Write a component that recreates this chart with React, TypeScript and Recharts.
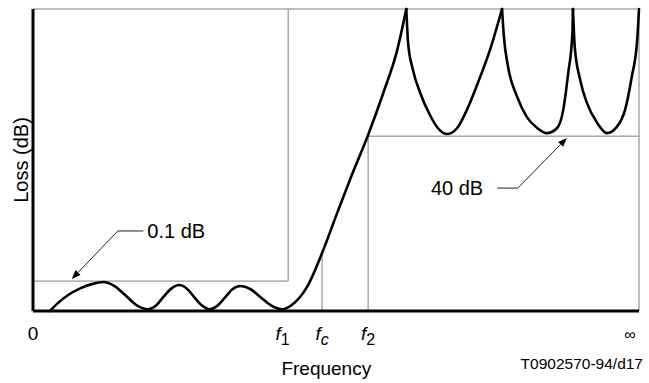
import React from 'react';
import { LineChart, Line, XAxis, YAxis, ReferenceLine, ReferenceDot } from 'recharts';

// loss curve (frequency and loss both on a 0..100 relative scale)
// loss = 100 marks the attenuation poles at the top of the frame
const freq = [
  2.8, 4.1, 5.8, 7.8, 9.7, 11.6, 13.4, 15.3, 17.1, 19.0,
  20.3, 21.5, 22.8, 24.1, 25.4, 26.6, 27.9, 29.2,
  30.4, 31.7, 32.9, 34.2, 35.9, 37.6, 39.4, 41.1,
  42.7, 45.2, 47.7, 50.2, 52.6, 55.3, 57.8, 60.1, 61.6,
  61.9, 62.7, 63.9, 65.5, 66.8, 68.3, 70.0, 71.6, 73.4, 75.4, 77.4,
  77.7, 78.4, 79.9, 81.5, 83.2, 84.8, 86.5, 87.5, 88.3, 89.0, 89.1,
  89.4, 90.3, 91.4, 93.1, 94.7, 96.3, 97.7, 98.8, 99.7, 100,
];
const loss = [
  0, 2.6, 5.3, 7.5, 8.9, 9.6, 8.3, 5.1, 1.9, 0.6,
  1.8, 4.6, 7.4, 8.6, 7.4, 4.6, 1.8, 0.6,
  1.7, 4.5, 7.2, 8.3, 7.2, 4.5, 1.7, 0.6,
  2.0, 7.9, 19.2, 32.5, 45.0, 58.3, 72.2, 86.4, 100,
  88.7, 79.8, 72.2, 64.9, 60.6, 58.6, 60.6, 66.6, 75.5, 86.4, 100,
  91.0, 80.8, 70.9, 64.2, 60.6, 58.9, 60.6, 66.6, 78.5, 91.7, 100,
  87.4, 76.5, 68.9, 62.3, 58.9, 60.9, 66.6, 77.5, 89.7, 100,
];

const tickPos = [0, 41.2, 47.7, 55.3, 98.5];
const tickNames = ['0', 'f1', 'fc', 'f2', '∞'];

const f1 = 42.1;
const fc = 47.7;
const f2 = 55.3;
const fcLoss = 19.2;
const passbandLimit = 9.9; // 0.1 dB
const stopbandLimit = 57.9; // 40 dB

// leader lines: text anchor, elbow, arrow tip
const rippleNote = [[18.2, 26.5], [14.0, 26.5], [6.4, 10.6]];
const stopNote = [[76.6, 40.7], [80.0, 40.7], [88.1, 57.3]];

// split the curve at the poles so neighbouring lobes meet in a sharp cusp
const points = freq.map((f, i) => ({ freq: f, loss: loss[i] }));
const lobes: { freq: number; loss: number }[][] = [];
let cur: { freq: number; loss: number }[] = [];
points.forEach((p) => {
  cur.push(p);
  if (p.loss >= 100) {
    lobes.push(cur);
    cur = [p];
  }
});
if (cur.length > 1) lobes.push(cur);

const GRAY = '#7f7f7f';
const FONT = '"Liberation Sans", Arial, sans-serif';

const FreqTick = (props: any) => {
  const { x, y, payload } = props;
  const name = tickNames[tickPos.indexOf(payload.value)] ?? '';
  if (name.startsWith('f')) {
    const sub = name.slice(1);
    return (
      <text x={x} y={y + 21} textAnchor="middle" fontSize={19} fill="#000">
        <tspan fontStyle="italic">f</tspan>
        <tspan dy={5} fontSize={16} fontStyle={sub === 'c' ? 'italic' : 'normal'}>{sub}</tspan>
      </text>
    );
  }
  return (
    <text x={x} y={y + 21} textAnchor="middle" fontSize={name === '∞' ? 16 : 19} fill="#000">
      {name}
    </text>
  );
};

const ArrowLine = (props: any) => {
  const { x1, y1, x2, y2 } = props;
  const a = Math.atan2(y2 - y1, x2 - x1);
  const len = 9;
  const w = 3.5;
  const bx = x2 - len * Math.cos(a);
  const by = y2 - len * Math.sin(a);
  const pts = [
    [x2, y2],
    [bx + w * Math.sin(a), by - w * Math.cos(a)],
    [bx - w * Math.sin(a), by + w * Math.cos(a)],
  ]
    .map((p) => p.join(','))
    .join(' ');
  return (
    <g>
      <line x1={x1} y1={y1} x2={bx} y2={by} stroke="#222" strokeWidth={1} />
      <polygon points={pts} fill="#000" />
    </g>
  );
};

const FreqLabel = (props: any) => {
  const { viewBox } = props;
  const { x, y, width } = viewBox;
  return (
    <g>
      <text x={x + width * 0.484} y={y + 64} textAnchor="middle" fontSize={19} fill="#000">
        Frequency
      </text>
      <text x={x + width + 4} y={y + 58} textAnchor="end" fontSize={15.5} fill="#000">
        T0902570-94/d17
      </text>
    </g>
  );
};

const LossLabel = (props: any) => {
  const { viewBox } = props;
  const cx = viewBox.x + viewBox.width - 12;
  const cy = viewBox.y + viewBox.height / 2;
  return (
    <text
      x={cx}
      y={cy}
      transform={`rotate(-90, ${cx}, ${cy})`}
      textAnchor="middle"
      dominantBaseline="central"
      fontSize={20}
      fill="#000"
    >
      Loss (dB)
    </text>
  );
};

export default function App() {
  return (
    <div style={{ position: 'absolute', left: 0, top: 0, width: 649, height: 383, background: '#fff', fontFamily: FONT }}>
      <LineChart width={649} height={383} margin={{ top: 9, right: 10, bottom: 32, left: 0 }}>
        <XAxis
          dataKey="freq"
          type="number"
          domain={[0, 100]}
          ticks={tickPos}
          tick={<FreqTick />}
          tickLine={false}
          axisLine={{ stroke: '#000', strokeWidth: 3 }}
          height={40}
          label={<FreqLabel />}
        />
        <YAxis
          type="number"
          domain={[0, 100]}
          width={33}
          tick={false}
          tickLine={false}
          axisLine={{ stroke: '#000', strokeWidth: 3 }}
          label={<LossLabel />}
        />

        {/* frame */}
        <ReferenceLine y={100} stroke={GRAY} strokeWidth={1} />
        <ReferenceLine x={100} stroke={GRAY} strokeWidth={1} />

        {/* passband limit box */}
        <ReferenceLine segment={[{ x: 0, y: passbandLimit }, { x: f1, y: passbandLimit }]} stroke={GRAY} strokeWidth={1} />
        <ReferenceLine segment={[{ x: f1, y: passbandLimit }, { x: f1, y: 100 }]} stroke={GRAY} strokeWidth={1} />

        {/* fc marker */}
        <ReferenceLine segment={[{ x: fc, y: 0 }, { x: fc, y: fcLoss }]} stroke={GRAY} strokeWidth={1} />

        {/* stopband limit box */}
        <ReferenceLine segment={[{ x: f2, y: 0 }, { x: f2, y: stopbandLimit }]} stroke={GRAY} strokeWidth={1} />
        <ReferenceLine segment={[{ x: f2, y: stopbandLimit }, { x: 100, y: stopbandLimit }]} stroke={GRAY} strokeWidth={1} />

        {/* annotations */}
        <ReferenceLine
          segment={[{ x: rippleNote[0][0], y: rippleNote[0][1] }, { x: rippleNote[1][0], y: rippleNote[1][1] }]}
          stroke="#222"
          strokeWidth={1}
        />
        <ReferenceLine
          segment={[{ x: rippleNote[1][0], y: rippleNote[1][1] }, { x: rippleNote[2][0], y: rippleNote[2][1] }]}
          shape={ArrowLine}
        />
        <ReferenceDot
          x={rippleNote[0][0]}
          y={rippleNote[0][1]}
          r={0}
          stroke="none"
          label={{ value: '0.1 dB', position: 'right', offset: 4, fontSize: 20, fill: '#000' }}
        />
        <ReferenceLine
          segment={[{ x: stopNote[0][0], y: stopNote[0][1] }, { x: stopNote[1][0], y: stopNote[1][1] }]}
          stroke="#222"
          strokeWidth={1}
        />
        <ReferenceLine
          segment={[{ x: stopNote[1][0], y: stopNote[1][1] }, { x: stopNote[2][0], y: stopNote[2][1] }]}
          shape={ArrowLine}
        />
        <ReferenceDot
          x={stopNote[0][0]}
          y={stopNote[0][1]}
          r={0}
          stroke="none"
          label={{ value: '40 dB', position: 'left', offset: 14, fontSize: 20, fill: '#000' }}
        />

        {lobes.map((seg, i) => (
          <Line
            key={i}
            data={seg}
            type="monotone"
            dataKey="loss"
            stroke="#000"
            strokeWidth={2.6}
            strokeLinecap="round"
            dot={false}
            activeDot={false}
            isAnimationActive={false}
          />
        ))}
      </LineChart>
    </div>
  );
}
